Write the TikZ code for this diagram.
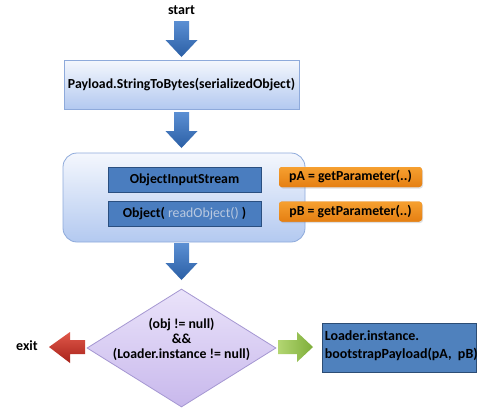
\documentclass[tikz,border=0pt]{standalone}
\usepackage{fontspec}
\setmainfont{Carlito}
\usetikzlibrary{shapes.geometric,shadows}
\definecolor{arrblueA}{HTML}{5B8FD3}
\definecolor{arrblueB}{HTML}{2B5FA5}
\definecolor{lbTop}{HTML}{F4F7FD}
\definecolor{lbBot}{HTML}{B3C9F0}
\definecolor{lbBorder}{HTML}{8EAADB}
\definecolor{dkFill}{HTML}{4A7DBF}
\definecolor{dkBorder}{HTML}{2A4F80}
\definecolor{orTop}{HTML}{F6A030}
\definecolor{orBot}{HTML}{E57F12}
\definecolor{dmTop}{HTML}{EAE3FA}
\definecolor{dmBot}{HTML}{C8B8EC}
\definecolor{dmBorder}{HTML}{A597D2}
\definecolor{redA}{HTML}{E0584A}
\definecolor{redB}{HTML}{A8221A}
\definecolor{grnA}{HTML}{B3D672}
\definecolor{grnB}{HTML}{7EAE3A}
\definecolor{bbFill}{HTML}{4F81BD}
\definecolor{bbBorder}{HTML}{2C4D75}
\definecolor{grayText}{HTML}{B9C9E0}
\tikzset{
  txt/.style={font=\fontsize{13.8}{15}\selectfont\bfseries},
  lightbox/.style={draw=lbBorder, line width=0.8pt, top color=lbTop, bottom color=lbBot, inner sep=0pt},
  darkbox/.style={draw=dkBorder, line width=0.8pt, fill=dkFill, inner sep=0pt, minimum width=153pt, minimum height=25pt, txt},
  orangebox/.style={fill=orBot, top color=orTop, bottom color=orBot, rounded corners=3pt, inner sep=0pt, minimum width=143pt, minimum height=20pt, txt, drop shadow={shadow xshift=1pt, shadow yshift=-1.5pt, opacity=0.25}},
  bluearr/.style={top color=arrblueA, bottom color=arrblueB},
}
\newcommand\blkdown[3]{\path[bluearr] (#1-7.5,#2) -- (#1+7.5,#2) -- (#1+7.5,#3-17) -- (#1+16,#3-17) -- (#1,#3) -- (#1-16,#3-17) -- (#1-7.5,#3-17) -- cycle;}
\begin{document}
\begin{tikzpicture}[x=1pt,y=-1pt]
\useasboundingbox[fill=white] (0,0) rectangle (486,413);
% start
\node[font=\fontsize{14}{16}\selectfont\bfseries] (start) at (181.5,10) {start};
\blkdown{181.5}{21}{57}
% box 1
\node[lightbox, minimum width=235pt, minimum height=49pt, txt] (conv) at (181.5,84.5) {Payload.StringToBytes(serializedObject)};
\blkdown{181.5}{112}{148}
% big box
\node[lightbox, rounded corners=14pt, minimum width=242pt, minimum height=89pt] (stream) at (184,197.5) {};
\node[darkbox] (ois) at (184.5,179.5) {ObjectInputStream};
\node[darkbox] (obj) at (184.5,214) {Object( \textcolor{grayText}{\mdseries readObject()} )};
\node[orangebox] (pa) at (350.5,177) {pA = getParameter(..)};
\node[orangebox] (pb) at (350.5,211.5) {pB = getParameter(..)};
\blkdown{181.5}{243}{280}
% decision
\node[diamond, draw=dmBorder, line width=0.8pt, top color=dmTop, bottom color=dmBot, minimum width=189pt, minimum height=118pt, inner sep=0pt] (dec) at (181.5,348) {};
\node[txt, align=center] (dectext) at ([yshift=9pt]dec.center) {(obj != null)\\\&\&\\(Loader.instance != null)};
% exit arrow
\path[left color=redA, right color=redB, shading angle=0] (85,340) -- (85,354) -- (70,354) -- (70,363) -- (49,347) -- (70,332) -- (70,340) -- cycle;
\node[font=\fontsize{14}{16}\selectfont\bfseries] (exit) at (27,346) {exit};
% yes arrow
\path[left color=grnA, right color=grnB] (278,340) -- (297,340) -- (297,332) -- (313,347) -- (297,362) -- (297,354) -- (278,354) -- cycle;
% result box
\node[draw=bbBorder, line width=0.8pt, fill=bbFill, minimum width=154pt, minimum height=49pt, inner sep=0pt] (boot) at (399,347.5) {};
\node[font=\fontsize{14}{17.5}\selectfont\bfseries, align=left, anchor=north west, inner sep=0pt] (boottext) at ([xshift=3pt,yshift=-8pt]boot.north west) {Loader.instance.\\bootstrapPayload(pA,~ pB)};
\end{tikzpicture}
\end{document}
